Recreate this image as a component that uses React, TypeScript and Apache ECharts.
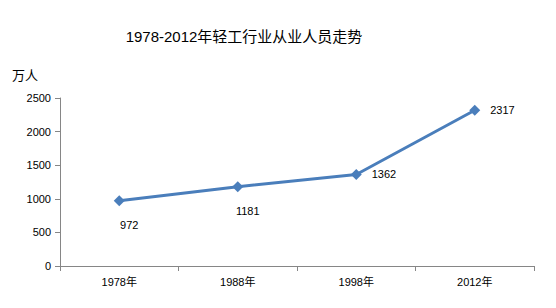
import React, { useEffect, useRef } from "react";
import * as echarts from "echarts";

const title = "1978-2012年轻工行业从业人员走势";
const unit = "万人";
const categories = ["1978年", "1988年", "1998年", "2012年"];
const values = [972, 1181, 1362, 2317];
const labelPositions = ["bottom", "bottom", "right", "right"];

const FONT = "'Liberation Sans', 'Noto Sans CJK SC', sans-serif";

export default function App() {
  const ref = useRef<HTMLDivElement>(null);
  useEffect(() => {
    if (!ref.current) return;
    const chart = echarts.init(ref.current, undefined, { renderer: "svg" });
    chart.setOption({
      animation: false,
      backgroundColor: "#ffffff",
      title: {
        text: title,
        left: 239,
        top: 24,
        textAlign: "center",
        textStyle: { fontSize: 15, fontWeight: "normal", color: "#000", fontFamily: FONT },
      },
      grid: { left: 60, right: 22, top: 98, bottom: 42 },
      xAxis: {
        type: "category",
        data: categories,
        boundaryGap: true,
        axisLine: { lineStyle: { color: "#868686", width: 1 } },
        axisTick: { show: true, alignWithLabel: false, length: 5, lineStyle: { color: "#868686" } },
        axisLabel: { color: "#000", fontSize: 11, fontFamily: FONT, margin: 10 },
        splitLine: { show: false },
      },
      yAxis: {
        type: "value",
        min: 0,
        max: 2500,
        interval: 500,
        name: unit,
        nameLocation: "end",
        nameGap: 16,
        nameTextStyle: { color: "#000", fontSize: 13, fontFamily: FONT, align: "right", padding: [0, 22, 0, 0] },
        axisLine: { show: true, lineStyle: { color: "#868686", width: 1 } },
        axisTick: { show: true, length: 5, lineStyle: { color: "#868686" } },
        axisLabel: { color: "#000", fontSize: 11, fontFamily: FONT, margin: 9, formatter: (v: number) => String(v) },
        splitLine: { show: false },
      },
      series: [
        {
          type: "line",
          data: values.map((v, i) => ({
            value: v,
            label: {
              position: labelPositions[i],
              distance: labelPositions[i] === "bottom" ? 13 : 10,
              offset: labelPositions[i] === "bottom" ? [10, 0] : [0, 0],
            },
          })),
          symbol: "diamond",
          symbolSize: 11,
          lineStyle: { color: "#4A7EBB", width: 3 },
          itemStyle: { color: "#4A7EBB" },
          label: { show: true, color: "#000", fontSize: 11, fontFamily: FONT },
        },
      ],
    });
    return () => chart.dispose();
  }, []);
  return <div ref={ref} style={{ position: "fixed", left: 0, top: 0, width: 556, height: 308 }} />;
}
